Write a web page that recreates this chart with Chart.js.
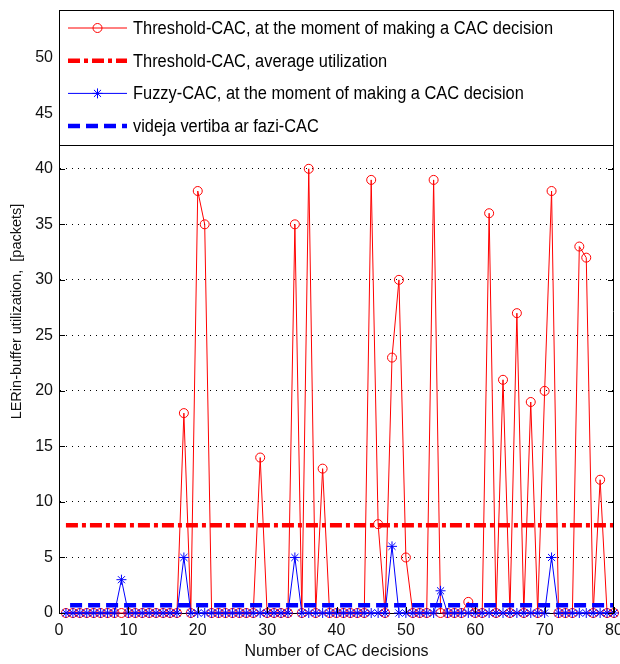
<!DOCTYPE html>
<html>
<head>
<meta charset="utf-8">
<script src="https://cdn.jsdelivr.net/npm/chart.js@4.4.0/dist/chart.umd.min.js"></script>
<style>
  html, body { margin: 0; padding: 0; background: #fff; }
  #wrap { width: 620px; height: 664px; }
</style>
</head>
<body>
<div id="wrap"><canvas id="chart" width="620" height="664"></canvas></div>
<script>
// CAC decision index (x axis)
const decisions = [
  1, 2, 3, 4, 5, 6, 7, 8, 9, 10,
  11, 12, 13, 14, 15, 16, 17, 18, 19, 20,
  21, 22, 23, 24, 25, 26, 27, 28, 29, 30,
  31, 32, 33, 34, 35, 36, 37, 38, 39, 40,
  41, 42, 43, 44, 45, 46, 47, 48, 49, 50,
  51, 52, 53, 54, 55, 56, 57, 58, 59, 60,
  61, 62, 63, 64, 65, 66, 67, 68, 69, 70,
  71, 72, 73, 74, 75, 76, 77, 78, 79, 80
];

// buffer utilization [packets] at each decision
const thresholdCac = [
  0, 0, 0, 0, 0, 0, 0, 0, 0, 0,
  0, 0, 0, 0, 0, 0, 0, 18, 0, 38,
  35, 0, 0, 0, 0, 0, 0, 0, 14, 0,
  0, 0, 0, 35, 0, 40, 0, 13, 0, 0,
  0, 0, 0, 0, 39, 8, 0, 23, 30, 5,
  0, 0, 0, 39, 0, 0, 0, 0, 1, 0,
  0, 36, 0, 21, 0, 27, 0, 19, 0, 20,
  38, 0, 0, 0, 33, 32, 0, 12, 0, 0
];
const fuzzyCac = [
  0, 0, 0, 0, 0, 0, 0, 0, 3, 0,
  0, 0, 0, 0, 0, 0, 0, 5, 0, 0,
  0, 0, 0, 0, 0, 0, 0, 0, 0, 0,
  0, 0, 0, 5, 0, 0, 0, 0, 0, 0,
  0, 0, 0, 0, 0, 0, 0, 6, 0, 0,
  0, 0, 0, 0, 2, 0, 0, 0, 0, 0,
  0, 0, 0, 0, 0, 0, 0, 0, 0, 0,
  5, 0, 0, 0, 0, 0, 0, 0, 0, 0
];

// average utilization lines
const thresholdAvg = 7.9;
const thresholdAvgSpan = [1, 80];
const fuzzyAvg = 0.7;
const fuzzyAvgSpan = [1.6, 80];

const xTicks = [0, 10, 20, 30, 40, 50, 60, 70, 80];
const yTicks = [0, 5, 10, 15, 20, 25, 30, 35, 40, 45, 50];

const seriesLabels = [
  "Threshold-CAC, at the moment of making a CAC decision",
  "Threshold-CAC, average utilization",
  "Fuzzy-CAC, at the moment of making a CAC decision",
  "videja vertiba ar fazi-CAC"
];

Chart.defaults.font.family = '"Liberation Sans", Arial, sans-serif';
Chart.defaults.color = "#000";

const toPoints = (ys) => decisions.map((x, i) => ({ x: x, y: ys[i] }));
const flatLine = (span, y) => span.map((x) => ({ x: x, y: y }));

// axes box, inward ticks and the in-plot legend (like matlab)
const boxAndLegend = {
  id: "boxAndLegend",
  afterDraw(chart) {
    const { ctx, chartArea: a, scales } = chart;
    ctx.save();

    ctx.strokeStyle = "#000";
    ctx.lineWidth = 1;
    ctx.setLineDash([]);
    ctx.beginPath();
    ctx.moveTo(a.right - 0.5, a.bottom);
    ctx.lineTo(a.right - 0.5, a.top);
    ctx.stroke();

    const tick = 6;
    ctx.beginPath();
    yTicks.forEach((v) => {
      const y = Math.round(scales.y.getPixelForValue(v)) + 0.5;
      ctx.moveTo(a.left, y);
      ctx.lineTo(a.left + tick, y);
      ctx.moveTo(a.right, y);
      ctx.lineTo(a.right - tick, y);
    });
    xTicks.forEach((v) => {
      const x = Math.round(scales.x.getPixelForValue(v)) + 0.5;
      ctx.moveTo(x, a.bottom);
      ctx.lineTo(x, a.bottom - tick);
    });
    ctx.stroke();

    // legend box
    const lgBottom = 145;
    ctx.fillStyle = "#fff";
    ctx.fillRect(a.left, a.top, a.right - a.left, lgBottom - a.top);
    ctx.strokeRect(a.left + 0.5, a.top + 0.5, a.right - a.left - 1, lgBottom - a.top);

    ctx.font = '18px "Liberation Sans", Arial, sans-serif';
    ctx.textBaseline = "middle";
    const sx = 420 / ctx.measureText(chart.data.datasets[0].label).width;

    chart.data.datasets.forEach((ds, i) => {
      const y = 28 + i * 32.7;
      const x0 = 68, x1 = 127;
      ctx.strokeStyle = ds.borderColor;
      ctx.lineWidth = ds.borderWidth;
      ctx.lineCap = "butt";
      ctx.setLineDash(ds.borderDash || []);
      ctx.beginPath();
      ctx.moveTo(x0, y);
      ctx.lineTo(x1, y);
      ctx.stroke();
      ctx.setLineDash([]);
      if (ds.pointRadius > 0) {
        ctx.fillStyle = "rgba(0,0,0,0)";
        ctx.lineWidth = 1;
        Chart.helpers.drawPoint(ctx, {
          pointStyle: ds.pointStyle, radius: ds.pointRadius, rotation: 0, borderWidth: 1
        }, (x0 + x1) / 2, y);
      }
      ctx.save();
      ctx.translate(133, y);
      ctx.scale(sx, 1);
      ctx.fillStyle = "#000";
      ctx.fillText(ds.label, 0, 1);
      ctx.restore();
    });

    ctx.restore();
  }
};

new Chart(document.getElementById("chart"), {
  type: "line",
  data: {
    datasets: [
      {
        label: seriesLabels[0],
        data: toPoints(thresholdCac),
        borderColor: "#ff0000",
        borderWidth: 1,
        pointStyle: "circle",
        pointRadius: 4.5,
        pointBorderColor: "#ff0000",
        pointBackgroundColor: "rgba(0,0,0,0)",
        pointBorderWidth: 1,
        clip: false,
        order: 3
      },
      {
        label: seriesLabels[1],
        data: flatLine(thresholdAvgSpan, thresholdAvg),
        borderColor: "#ff0000",
        borderWidth: 4.5,
        borderDash: [12, 4, 4, 4],
        borderCapStyle: "butt",
        pointRadius: 0,
        order: 2
      },
      {
        label: seriesLabels[2],
        data: toPoints(fuzzyCac),
        borderColor: "#0000ff",
        borderWidth: 1,
        pointStyle: "star",
        pointRadius: 5,
        pointBorderColor: "#0000ff",
        pointBackgroundColor: "#0000ff",
        pointBorderWidth: 1,
        clip: false,
        order: 1
      },
      {
        label: seriesLabels[3],
        data: flatLine(fuzzyAvgSpan, fuzzyAvg),
        borderColor: "#0000ff",
        borderWidth: 4.5,
        borderDash: [12, 6],
        borderCapStyle: "butt",
        pointRadius: 0,
        order: 0
      }
    ]
  },
  options: {
    responsive: false,
    animation: false,
    events: [],
    layout: { padding: { top: 10, right: 3, left: 0, bottom: 0 } },
    elements: { line: { tension: 0 } },
    plugins: {
      legend: { display: false },
      tooltip: { enabled: false }
    },
    scales: {
      x: {
        type: "linear",
        min: 0,
        max: 80,
        grid: { display: false },
        border: { display: true, color: "#000", width: 1 },
        ticks: { font: { size: 16 }, padding: 0, maxRotation: 0, color: "#111" },
        title: {
          display: true,
          text: "Number of CAC decisions",
          font: { size: 16 },
          color: "#111",
          padding: { top: 0, bottom: 3 }
        },
        afterBuildTicks: (s) => { s.ticks = xTicks.map((v) => ({ value: v })); },
        afterFit: (s) => { s.height = 51; s.paddingLeft = 0; s.paddingRight = 0; }
      },
      y: {
        type: "linear",
        min: 0,
        max: 54.3,
        grid: {
          color: (c) => (c.tick && c.tick.value === 0 ? "rgba(0,0,0,0)" : "#000"),
          lineWidth: 1,
          drawTicks: false
        },
        border: { display: true, color: "#000", width: 1, dash: [1, 5] },
        ticks: { font: { size: 16 }, padding: 6, color: "#111" },
        title: {
          display: true,
          text: "LERin-buffer utilization,  [packets]",
          font: { size: 14.5 },
          color: "#111",
          padding: { top: 8, bottom: 0 }
        },
        afterBuildTicks: (s) => { s.ticks = yTicks.map((v) => ({ value: v })); },
        afterFit: (s) => { s.width = 59; s.paddingTop = 0; s.paddingBottom = 0; }
      }
    }
  },
  plugins: [boxAndLegend]
});
</script>
</body>
</html>
